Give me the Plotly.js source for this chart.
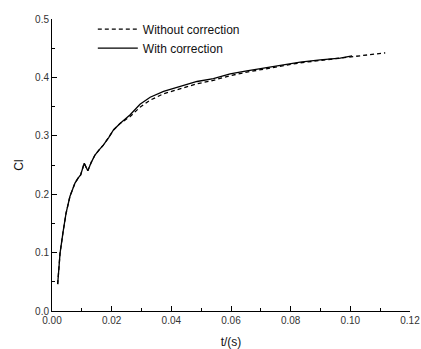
<!DOCTYPE html>
<html>
<head>
<script src="https://cdn.plot.ly/plotly-3.0.1.min.js"></script>
<style>html,body{margin:0;padding:0;background:#fff;}#chart{width:421px;height:349px;}</style>
</head>
<body>
<div id="chart"></div>
<script>
var tWith = [0.0019,0.0027,0.0037,0.0047,0.0060,0.0077,0.0088,0.0096,0.0108,0.0120,0.0132,0.0144,0.0158,0.0172,0.0190,0.0206,0.0228,0.0262,0.0295,0.0329,0.0374,0.043,0.0486,0.0541,0.0597,0.0653,0.0709,0.0765,0.0832,0.0899,0.0966,0.1006];
var clWith = [0.046,0.099,0.135,0.167,0.196,0.219,0.228,0.233,0.253,0.240,0.255,0.267,0.276,0.284,0.297,0.310,0.321,0.336,0.354,0.366,0.376,0.385,0.393,0.398,0.406,0.411,0.416,0.421,0.426,0.430,0.433,0.437];
var tWithout = [0.0019,0.0027,0.0037,0.0047,0.0060,0.0077,0.0088,0.0096,0.0108,0.0120,0.0132,0.0144,0.0158,0.0172,0.0190,0.0206,0.0228,0.0262,0.0295,0.0329,0.0374,0.043,0.0486,0.0541,0.0597,0.0653,0.0709,0.0765,0.0832,0.0899,0.0966,0.1006,0.106,0.1117];
var clWithout = [0.046,0.099,0.135,0.167,0.196,0.219,0.228,0.233,0.253,0.240,0.255,0.267,0.276,0.284,0.297,0.310,0.321,0.333,0.349,0.361,0.372,0.381,0.389,0.395,0.403,0.409,0.414,0.420,0.425,0.429,0.433,0.436,0.439,0.442];
var names = ["Without correction", "With correction"];

var traces = [
  {x: tWithout, y: clWithout, name: names[0], mode: 'lines', line: {color: '#000', width: 1.3, dash: '4px,3px'}},
  {x: tWith, y: clWith, name: names[1], mode: 'lines', line: {color: '#000', width: 1.3}}
];
var fontFam = 'Liberation Sans, Arial, sans-serif';
var layout = {
  width: 421, height: 349,
  margin: {l: 52, r: 11, t: 19, b: 38},
  paper_bgcolor: '#fff', plot_bgcolor: '#fff',
  font: {family: fontFam, size: 11, color: '#333'},
  showlegend: true,
  legend: {x: 0.114, y: 1.015, xanchor: 'left', yanchor: 'top', bgcolor: 'rgba(0,0,0,0)', font: {size: 12, color: '#111'}, tracegroupgap: 0, itemwidth: 40},
  xaxis: {
    range: [0, 0.12], dtick: 0.02, tick0: 0, tickformat: '.2f',
    showline: true, linecolor: '#000', linewidth: 1, mirror: false,
    ticks: 'inside', ticklen: 5, tickcolor: '#000', showgrid: false, zeroline: false,
    minor: {dtick: 0.01, ticks: 'inside', ticklen: 3, tickcolor: '#000', showgrid: false},
    tickfont: {size: 10, color: '#333'},
    title: {text: 't/(s)', font: {size: 12, color: '#111'}, standoff: 16}
  },
  yaxis: {
    range: [0, 0.5], dtick: 0.1, tick0: 0, tickformat: '.1f',
    showline: true, linecolor: '#000', linewidth: 1, mirror: false,
    ticks: 'inside', ticklen: 5, tickcolor: '#000', showgrid: false, zeroline: false,
    minor: {dtick: 0.05, ticks: 'inside', ticklen: 3, tickcolor: '#000', showgrid: false},
    tickfont: {size: 10, color: '#333'},
    title: {text: 'Cl', font: {size: 12, color: '#111'}, standoff: 8}
  }
};
Plotly.newPlot('chart', traces, layout, {staticPlot: true, displayModeBar: false});
</script>
</body>
</html>
